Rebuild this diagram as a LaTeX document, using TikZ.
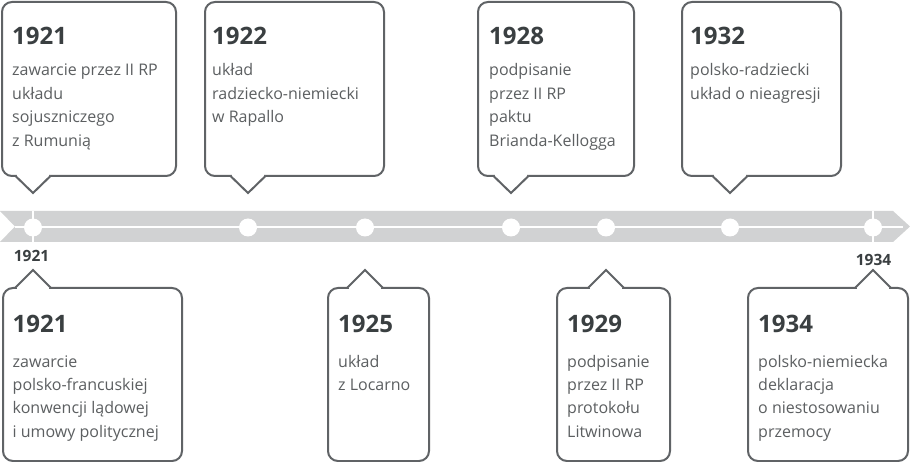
\documentclass[tikz,border=0pt]{standalone}
\usepackage{fontspec}
\setmainfont{Open Sans}
\definecolor{bandgray}{HTML}{D1D2D3}
\definecolor{edgegray}{HTML}{606366}
\definecolor{yeartxt}{HTML}{3A3F41}
\definecolor{bodytxt}{HTML}{5C5F61}
\tikzset{
 boxline/.style={draw=edgegray, line width=2pt, fill=white},
 yearlbl/.style={anchor=base west, inner sep=0pt, text=yeartxt, font=\fontsize{24}{28}\selectfont\bfseries},
 bodylbl/.style={anchor=base west, inner sep=0pt, text=bodytxt, font=\fontsize{16}{23.4}\selectfont},
 axislbl/.style={anchor=base, inner sep=0pt, text=yeartxt, font=\fontsize{15.5}{18}\selectfont\bfseries},
 dotmark/.style={circle, fill=white, minimum size=18pt, inner sep=0pt},
}
% top callout: #1 left, #2 right, #3 pointer x
\newcommand\calltop[3]{%
 \draw[boxline, rounded corners=10pt] (#1,2) rectangle (#2,176);
 \draw[white, line width=3pt] (#3-16,176) -- (#3+16,176);
 \draw[boxline, line join=miter] (#3-17.5,176) -- (#3,193) -- (#3+17.5,176);
}
% bottom callout
\newcommand\callbot[3]{%
 \draw[boxline, rounded corners=10pt] (#1,288) rectangle (#2,461);
 \draw[white, line width=3pt] (#3-16,288) -- (#3+16,288);
 \draw[boxline, line join=miter] (#3-18,288) -- (#3,270) -- (#3+18,288);
}
\newcommand\lines[1]{\begin{tabular}[t]{@{}l@{}}#1\end{tabular}}
\begin{document}
\begin{tikzpicture}[x=1pt,y=-1pt]
\useasboundingbox (0,0) rectangle (910,462);
\fill[white] (0,0) rectangle (910,462);
% band
\fill[bandgray] (0,211) -- (893,211) -- (910,226.5) -- (893,242) -- (0,242) -- (15,226.5) -- cycle;
\draw[white, line width=2pt] (15,227.5) -- (903,227.5);
\draw[white, line width=2pt] (33,211) -- (33,242);
\draw[white, line width=2pt] (873,211) -- (873,242);
\node[dotmark] (c1) at (33,227.5) {};
\node[dotmark] (c2) at (248,227.5) {};
\node[dotmark] (c3) at (365,227.5) {};
\node[dotmark] (c4) at (511,227.5) {};
\node[dotmark] (c5) at (606,227.5) {};
\node[dotmark] (c6) at (730,227.5) {};
\node[dotmark] (c7) at (873,227.5) {};
\node[axislbl] (a1) at (31.5,262) {1921};
\node[axislbl] (a2) at (873.5,266) {1934};
% top callouts
\calltop{2}{176}{33}
\calltop{205}{384}{248}
\calltop{478}{634}{511}
\calltop{682}{841}{730}
% bottom callouts
\callbot{3}{182}{33}
\callbot{328}{429}{365}
\callbot{557}{670}{606}
\callbot{748}{908}{873}
% texts top
\node[yearlbl] (yA) at (12,45) {1921};
\node[bodylbl] (tA) at (12,76) {\lines{zawarcie przez II RP\\układu\\sojuszniczego\\z Rumunią}};
\node[yearlbl] (yB) at (212,45) {1922};
\node[bodylbl] (tB) at (212,76) {\lines{układ\\radziecko-niemiecki\\w Rapallo}};
\node[yearlbl] (yC) at (489,45) {1928};
\node[bodylbl] (tC) at (489,76) {\lines{podpisanie\\przez II RP\\paktu\\Brianda-Kellogga}};
\node[yearlbl] (yD) at (690,45) {1932};
\node[bodylbl] (tD) at (690,76) {\lines{polsko-radziecki\\układ o nieagresji}};
% texts bottom
\node[yearlbl] (yE) at (12.5,332) {1921};
\node[bodylbl] (tE) at (12.5,367) {\lines{zawarcie\\polsko-francuskiej\\konwencji lądowej\\i umowy politycznej}};
\node[yearlbl] (yF) at (338,332) {1925};
\node[bodylbl] (tF) at (338,367) {\lines{układ\\z Locarno}};
\node[yearlbl] (yG) at (567,332) {1929};
\node[bodylbl] (tG) at (567,367) {\lines{podpisanie\\przez II RP\\protokołu\\Litwinowa}};
\node[yearlbl] (yH) at (758,332) {1934};
\node[bodylbl] (tH) at (758,367) {\lines{polsko-niemiecka\\deklaracja\\o niestosowaniu\\przemocy}};
\end{tikzpicture}
\end{document}
